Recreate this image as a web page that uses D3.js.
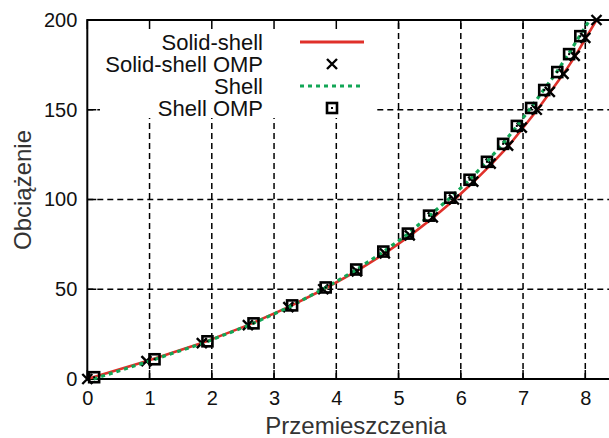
<!DOCTYPE html>
<html>
<head>
<meta charset="utf-8">
<script src="https://cdn.jsdelivr.net/npm/d3@7"></script>
<style>
  html, body { margin: 0; padding: 0; background: #fff; }
  svg { display: block; font-family: "Liberation Sans", Arial, sans-serif; }
</style>
</head>
<body>
<svg id="chart" width="609" height="438"></svg>
<script>
// Load levels (Obciążenie) and displacements (Przemieszczenia) for each model
const loadsSolid = [0, 10, 20, 30, 40, 50, 60, 70, 80, 90, 100, 110, 120, 130, 140, 150, 160, 170, 180, 190, 200];
const dispSolid = [0, 0.96, 1.84, 2.58, 3.23, 3.8, 4.32, 4.78, 5.19, 5.56, 5.9, 6.21, 6.5, 6.77, 7.0, 7.23, 7.44, 7.65, 7.84, 8.01, 8.18];

const loadsSolidOMP = [0, 10, 20, 30, 40, 50, 60, 70, 80, 90, 100, 110, 120, 130, 140, 150, 160, 170, 180, 190, 200];
const dispSolidOMP = [0, 0.95, 1.84, 2.58, 3.23, 3.79, 4.33, 4.78, 5.18, 5.55, 5.89, 6.2, 6.48, 6.76, 6.98, 7.22, 7.43, 7.65, 7.83, 8.0, 8.18];

const loadsShell = [0, 10, 20, 30, 40, 50, 60, 70, 80, 90, 100, 110, 120, 130, 140, 150, 160, 170, 180, 190, 200];
const dispShell = [0.1, 1.0, 1.86, 2.6, 3.24, 3.78, 4.28, 4.72, 5.12, 5.46, 5.8, 6.11, 6.39, 6.65, 6.88, 7.1, 7.31, 7.52, 7.71, 7.89, 8.07];

const loadsShellOMP = [1, 11, 21, 31, 41, 51, 61, 71, 81, 91, 101, 111, 121, 131, 141, 151, 161, 171, 181, 191];
const dispShellOMP = [0.11, 1.08, 1.93, 2.67, 3.29, 3.83, 4.32, 4.755, 5.15, 5.49, 5.83, 6.14, 6.42, 6.68, 6.9, 7.13, 7.34, 7.55, 7.74, 7.92];

const xTicks = [0, 1, 2, 3, 4, 5, 6, 7, 8];
const yTicks = [0, 50, 100, 150, 200];
const legendLabels = ["Solid-shell", "Solid-shell OMP", "Shell", "Shell OMP"];

const RED = "#e0302a";
const GREEN = "#12a656";

const svg = d3.select("#chart");
const plotLeft = 87.3, plotTop = 20, plotBottom = 379;
const x = d3.scaleLinear().domain([0, 8.5]).range([plotLeft, plotLeft + 8.5 * 62.25]);
const y = d3.scaleLinear().domain([0, 200]).range([plotBottom, plotTop]);
const xEnd = x.range()[1];

// grid
const grid = svg.append("g").attr("stroke", "#000").attr("stroke-width", 1.5).attr("stroke-dasharray", "6,4");
xTicks.filter(d => d > 0).forEach(d => {
  grid.append("line").attr("x1", x(d)).attr("x2", x(d)).attr("y1", y(0)).attr("y2", y(200));
});
yTicks.filter(d => d > 0 && d < 200).forEach(d => {
  grid.append("line").attr("x1", x(0)).attr("x2", xEnd).attr("y1", y(d)).attr("y2", y(d));
});

// opaque legend background
svg.append("rect").attr("x", 100).attr("y", plotTop).attr("width", 276).attr("height", 98).attr("fill", "#fff");

// ticks (inward, mirrored on top)
const tk = svg.append("g").attr("stroke", "#000").attr("stroke-width", 1.5);
const TL = 9;
xTicks.forEach(d => {
  tk.append("line").attr("x1", x(d)).attr("x2", x(d)).attr("y1", y(0)).attr("y2", y(0) - TL);
  tk.append("line").attr("x1", x(d)).attr("x2", x(d)).attr("y1", y(200)).attr("y2", y(200) + TL);
});
yTicks.forEach(d => {
  tk.append("line").attr("x1", x(0)).attr("x2", x(0) + TL).attr("y1", y(d)).attr("y2", y(d));
});

// border
svg.append("path")
  .attr("d", `M${xEnd},${y(0)}H${x(0)}V${y(200)}H${xEnd}`)
  .attr("fill", "none").attr("stroke", "#000").attr("stroke-width", 2);

// tick labels
const xAxis = d3.axisBottom(x).tickValues(xTicks).tickSize(0).tickPadding(12);
const xg = svg.append("g").attr("transform", `translate(0,${y(0)})`).call(xAxis);
xg.select(".domain").remove();
xg.selectAll("text").attr("font-size", 20).attr("fill", "#111").attr("font-family", "Liberation Sans, Arial, sans-serif");

const yAxis = d3.axisLeft(y).tickValues(yTicks).tickSize(0).tickPadding(10);
const yg = svg.append("g").attr("transform", `translate(${x(0)},0)`).call(yAxis);
yg.select(".domain").remove();
yg.selectAll("text").attr("font-size", 20).attr("fill", "#111").attr("font-family", "Liberation Sans, Arial, sans-serif");

// axis titles
svg.append("text").attr("x", 356).attr("y", 434).attr("text-anchor", "middle")
  .attr("font-size", 24).attr("fill", "#333").text("Przemieszczenia");
svg.append("text").attr("transform", "translate(31,190) rotate(-90)").attr("text-anchor", "middle")
  .attr("font-size", 24).attr("fill", "#333").text("Obciążenie");

const line = d3.line().x(d => x(d[0])).y(d => y(d[1]));
const zip = (a, b) => a.map((v, i) => [v, b[i]]);

// series
const plot = svg.append("g");
plot.append("path").datum(zip(dispSolid, loadsSolid)).attr("d", line)
  .attr("fill", "none").attr("stroke", RED).attr("stroke-width", 2.6);

function drawCross(g, cx, cy) {
  const s = 5;
  g.append("path").attr("d", `M${cx - s},${cy - s}L${cx + s},${cy + s}M${cx - s},${cy + s}L${cx + s},${cy - s}`)
    .attr("stroke", "#000").attr("stroke-width", 2.4).attr("fill", "none");
}
function drawSquare(g, cx, cy) {
  const s = 5;
  g.append("rect").attr("x", cx - s).attr("y", cy - s).attr("width", 2 * s).attr("height", 2 * s)
    .attr("fill", "none").attr("stroke", "#000").attr("stroke-width", 2.6);
  g.append("rect").attr("x", cx - 1).attr("y", cy - 1).attr("width", 2).attr("height", 2).attr("fill", "#000");
}

zip(dispSolidOMP, loadsSolidOMP).forEach(d => drawCross(plot, x(d[0]), y(d[1])));

plot.append("path").datum(zip(dispShell, loadsShell)).attr("d", line)
  .attr("fill", "none").attr("stroke", GREEN).attr("stroke-width", 3.2).attr("stroke-dasharray", "4,4");

zip(dispShellOMP, loadsShellOMP).forEach(d => drawSquare(plot, x(d[0]), y(d[1])));

// legend
const lg = svg.append("g");
const rowY = [42, 64, 86, 108];
const textRight = 263, sx1 = 300, sx2 = 364, sxm = 332;
legendLabels.forEach((t, i) => {
  lg.append("text").attr("x", textRight).attr("y", rowY[i]).attr("dy", "0.35em")
    .attr("text-anchor", "end").attr("font-size", 22).attr("fill", "#111").text(t);
});
lg.append("line").attr("x1", sx1).attr("x2", sx2).attr("y1", rowY[0]).attr("y2", rowY[0])
  .attr("stroke", RED).attr("stroke-width", 3);
drawCross(lg, sxm, rowY[1]);
lg.append("line").attr("x1", sx1).attr("x2", sx2).attr("y1", rowY[2]).attr("y2", rowY[2])
  .attr("stroke", GREEN).attr("stroke-width", 3.2).attr("stroke-dasharray", "4,4");
drawSquare(lg, sxm, rowY[3]);
</script>
</body>
</html>
